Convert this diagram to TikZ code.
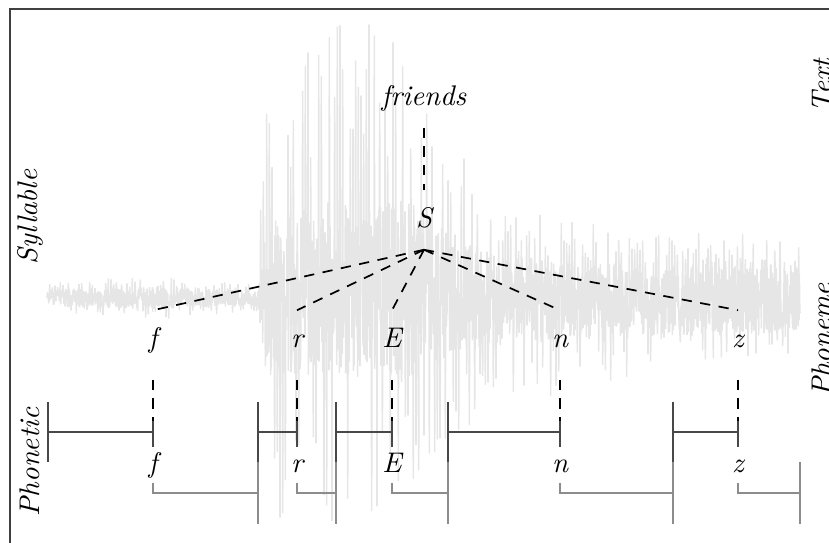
\documentclass[tikz,border=0pt]{standalone}
\usepackage{xcolor}
\definecolor{wavegray}{RGB}{230,230,230}
\definecolor{framegray}{RGB}{64,64,64}
\definecolor{bardark}{RGB}{72,72,72}
\definecolor{barlight}{RGB}{140,140,140}
\usepackage{tikz}
\usetikzlibrary{positioning, calc}
\tikzset{
  wave/.style={draw=wavegray, line width=0.55pt, line join=round},
  framebox/.style={draw=framegray, line width=0.5pt},
  tierlabel/.style={font=\itshape, rotate=90, inner sep=0pt},
  unitnode/.style={font=\itshape, text height=1.5ex, text depth=.25ex,
    inner sep=6.5pt},
  phonenode/.style={font=\itshape, text height=1.5ex, text depth=.25ex,
    inner sep=2.2pt},
  linkdash/.style={draw=black, line width=0.6pt, dash pattern=on 3.6pt off 3pt},
  darkbar/.style={draw=bardark, line width=0.5pt},
  lightbar/.style={draw=barlight, line width=0.5pt}
}

\begin{document}
\begin{tikzpicture}[x=0.352pt, y=-0.352pt]

  \useasboundingbox (0,0) rectangle (829,543);
  \clip (0,0) rectangle (829,543);
  \draw[framebox] (10,9) rectangle (900,600);

  % waveform of the recording
  \pgfmathsetseed{11}
  \draw[wave] (47,298)
    \foreach \xa/\ua/\da/\xb/\ub/\db/\kk
      [evaluate=\xb as \nn using int(3*(\xb-\xa))] in {
      47/16/16/150/22/22/0.5, 150/22/22/258/15/15/0.5,
      258/15/15/264/210/230/0.3, 264/210/230/300/250/228/0.35,
      300/250/228/345/288/226/0.35, 345/288/226/400/272/218/0.35,
      400/272/218/440/170/150/0.4, 440/170/150/500/95/110/0.42,
      500/95/110/600/72/88/0.45, 600/72/88/680/62/72/0.5,
      680/62/72/700/66/62/0.62, 700/66/62/800/60/56/0.62}{
      \foreach \ii [evaluate=\ii as \fr using \ii/\nn,
                    evaluate=\ii as \rr using rand,
                    evaluate=\ii as \pos using (\rr>0),
                    evaluate=\ii as \isp using ((\ii-8*floor(\ii/8))<0.5),
                    evaluate=\ii as \sp using \isp*(2*\pos-1)*(0.5+0.5*rnd)+(1-\isp)*\rr*\kk,
                    evaluate=\ii as \dy using (\pos*(\ua+(\ub-\ua)*\fr)+(1-\pos)*(\da+(\db-\da)*\fr))*\sp]
        in {1,...,\nn} { -- ({\xa+(\xb-\xa)*\fr}, {298-(\dy)}) }
    };

  % word and syllable
  \node[unitnode] (word) at (424,98) {friends};
  \node[unitnode] (syl) at (424,220) {S};
  \draw[linkdash] (word.south) -- (syl.north);

  % tier names
  \node[tierlabel] (tiertext) at (822,86) {Text};
  \node[tierlabel] (tiersyl) at (30,217) {Syllable};
  \node[tierlabel] (tierphm) at (822,340) {Phoneme};
  \node[tierlabel] (tierpht) at (30,462) {Phonetic};

  % phonemes and phonetic segments
  \foreach \ph/\px/\bs/\be in {f/153/48/258, r/297/258/336, E/392/336/448,
                               n/560/448/673, z/738/673/800}{
    \node[unitnode] (p\ph) at (\px,340) {\ph};
    \node[phonenode] (q\ph) at (\px,465) {\ph};
    \coordinate (d\ph) at (\px,421);
    \coordinate (m\ph) at (\px,432);
    \coordinate (s\ph) at (\bs,432);
    \coordinate (g\ph) at (\be,493);
    \draw[linkdash] (syl.south) -- (p\ph.north);
    \draw[linkdash, shorten <=3.5pt] (p\ph.south) -- (d\ph);
    \draw[darkbar] (d\ph) -- (q\ph.north);
    \draw[darkbar] (s\ph) -- (m\ph);
    \draw[darkbar] (s\ph) ++(0,-30) -- ++(0,60);
    \draw[lightbar] (q\ph.south) |- (g\ph);
    \draw[lightbar] (g\ph) ++(0,-31) -- ++(0,62);
  }

\end{tikzpicture}
\end{document}
